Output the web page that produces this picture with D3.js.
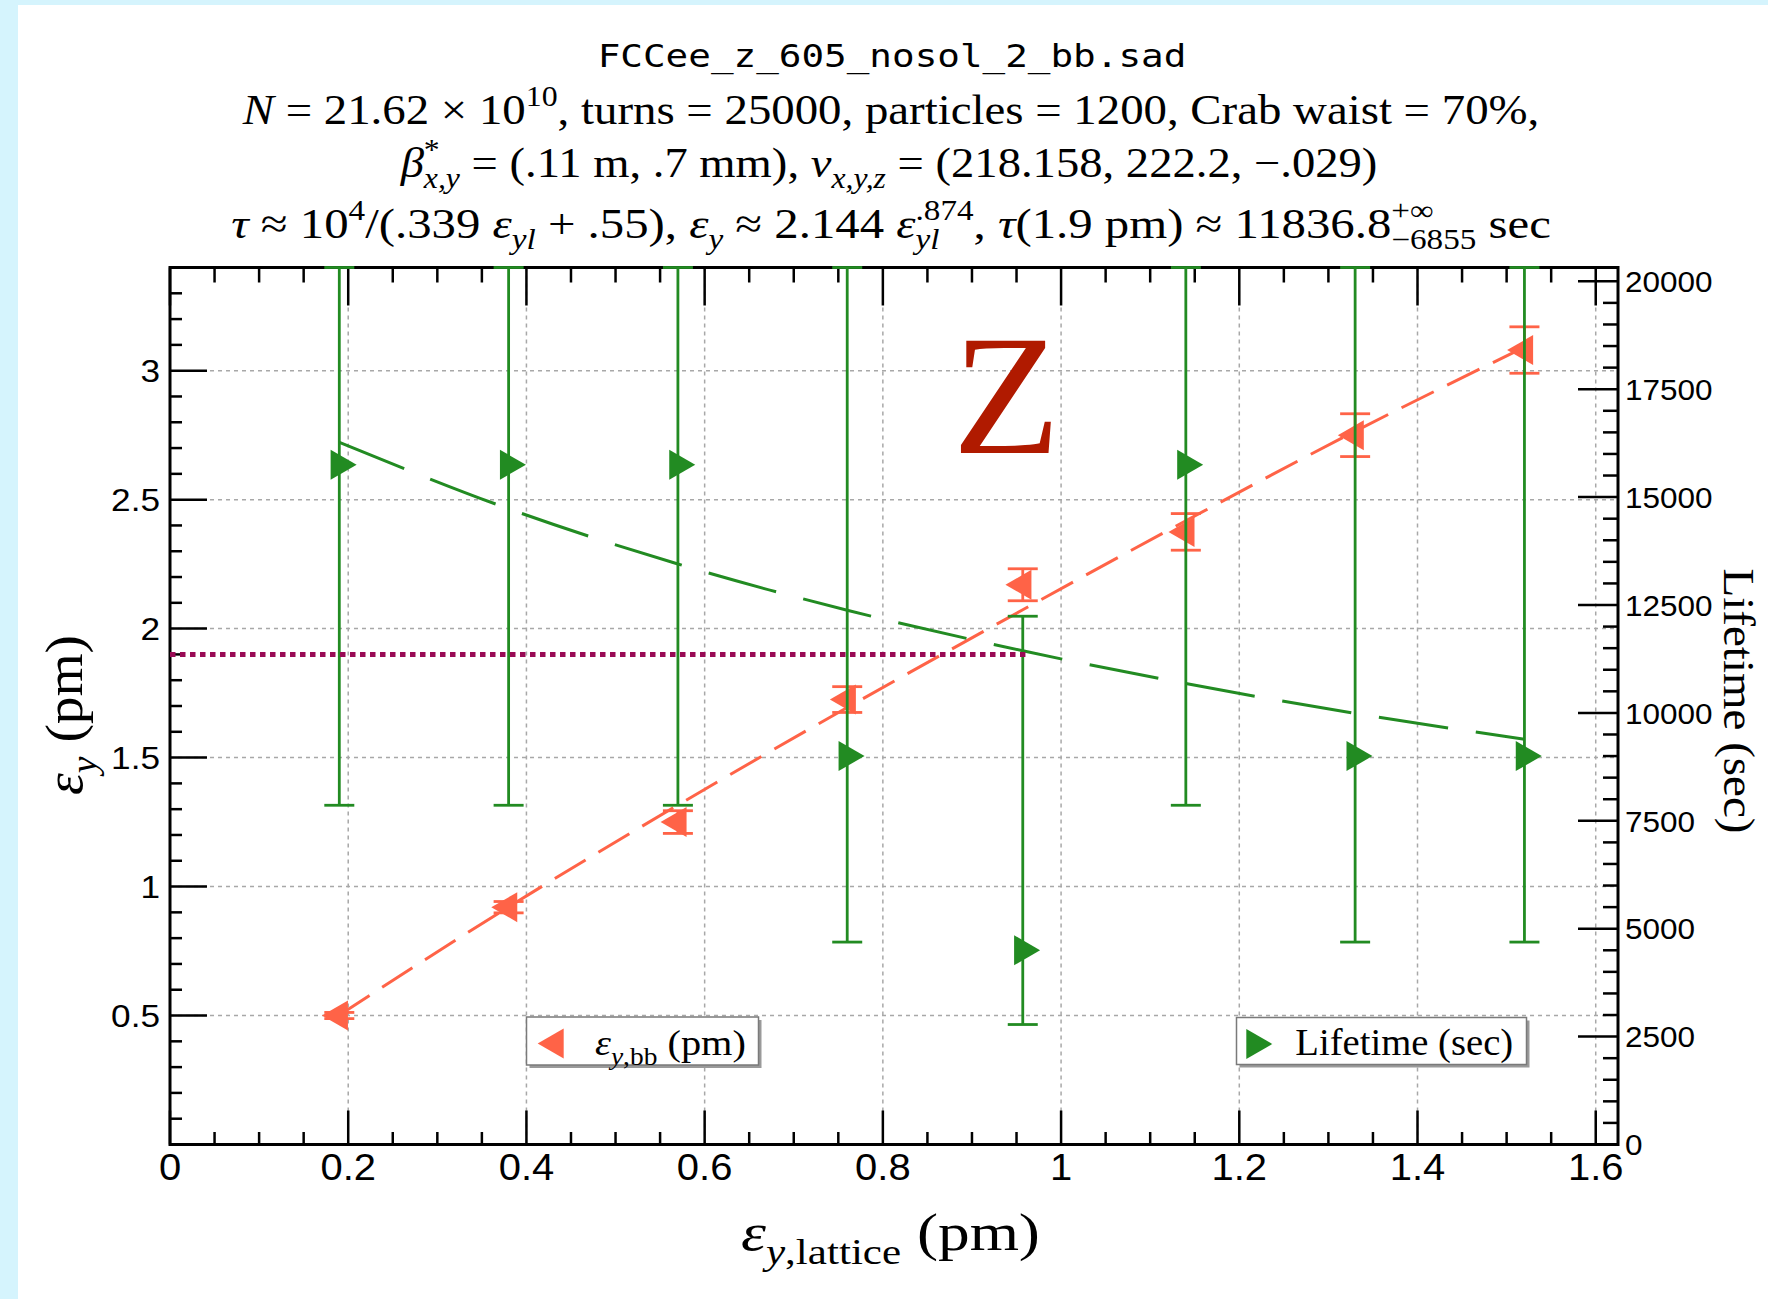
<!DOCTYPE html>
<html>
<head>
<meta charset="utf-8">
<script src="https://cdn.jsdelivr.net/npm/d3@7"></script>
<style>
  html, body { margin: 0; padding: 0; background: #ffffff; }
  svg { display: block; }
</style>
</head>
<body>
<svg id="chart" width="1768" height="1299"></svg>
<script>
// ---- data -------------------------------------------------------------
const latticeEmittance = [0.19, 0.38, 0.57, 0.76, 0.957, 1.14, 1.33, 1.52];   // eps_y,lattice (pm)
const beamBeamEmittance = [0.50, 0.92, 1.25, 1.725, 2.17, 2.375, 2.75, 3.08];  // eps_y,bb (pm)
const beamBeamError     = [0.012, 0.022, 0.044, 0.05, 0.062, 0.071, 0.083, 0.09];
const lifetimeSec  = [15750, 15750, 15750, 9000, 4500, 15750, 9000, 9000];
const lifetimeLow  = [7860, 7860, 7860, 4690, 2780, 7860, 4690, 4690];
const lifetimeHigh = [Infinity, Infinity, Infinity, Infinity, 12240, Infinity, Infinity, Infinity];
// fitted curves sampled at the lattice emittances
const emittanceFit = [0.502, 0.921, 1.316, 1.694, 2.073, 2.418, 2.765, 3.091];
const lifetimeFit  = [16270, 14730, 13450, 12380, 11440, 10680, 9990, 9390];
// reference level eps_y = 1.9 pm
const referenceLevel = 1.9;
const referenceSpan  = [0, 0.96];

const xTickValues = [0, 0.2, 0.4, 0.6, 0.8, 1.0, 1.2, 1.4, 1.6];
const xTickLabels = ["0", "0.2", "0.4", "0.6", "0.8", "1", "1.2", "1.4", "1.6"];
const leftTickValues = [0.5, 1, 1.5, 2, 2.5, 3];
const leftTickLabels = ["0.5", "1", "1.5", "2", "2.5", "3"];
const rightTickValues = [0, 2500, 5000, 7500, 10000, 12500, 15000, 17500, 20000];
const rightTickLabels = ["0", "2500", "5000", "7500", "10000", "12500", "15000", "17500", "20000"];

// ---- layout -----------------------------------------------------------
const W = 1768, H = 1299;
const P = { left: 170, top: 267.5, right: 1618, bottom: 1144.5 };
const RED = "#ff6347", GREEN = "#228b22", MAGENTA = "#990a55", ZRED = "#b01a00";
const SERIF = "'Liberation Serif', 'Times New Roman', serif";
const SANS = "'Liberation Sans', Arial, sans-serif";
const MONO = "'DejaVu Sans Mono', monospace";

const svg = d3.select("#chart");

const x = d3.scaleLinear().domain([0, 1.625]).range([P.left, P.right]);
const yL = d3.scaleLinear().domain([0, 3.4]).range([P.bottom, P.top]);
const yR = d3.scaleLinear().domain([0, 20320]).range([P.bottom, P.top]).clamp(true);

// page background
svg.append("rect").attr("width", W).attr("height", H).attr("fill", "#d5f4fd");
svg.append("rect").attr("x", 18).attr("y", 5).attr("width", W - 18).attr("height", H - 5).attr("fill", "#ffffff");

// ---- rich text helper (italics, sub/superscripts, stacked scripts) ----
function rich(parent, parts, fs, family) {
  const t = parent.append("text").attr("font-family", family).attr("font-size", fs).attr("fill", "#000");
  let shift = 0, pendingDx = 0, lastSupW = 0;
  parts.forEach(p => {
    const pos = p.s || "base";
    const target = pos === "sup" ? -0.42 * fs : pos === "sub" ? 0.27 * fs : 0;
    const ts = t.append("tspan").text(p.t);
    if (pos !== "base") ts.attr("font-size", 0.68 * fs);
    if (p.i) ts.attr("font-style", "italic");
    const dy = target - shift;
    if (dy) ts.attr("dy", dy);
    shift = target;
    let dx = pendingDx; pendingDx = 0;
    if (p.stack) dx -= lastSupW;
    if (dx) ts.attr("dx", dx);
    const w = ts.node().getComputedTextLength();
    if (pos === "sup") lastSupW = w;
    if (p.stack && w < lastSupW) pendingDx = lastSupW - w;
  });
  return t;
}
// place text so that its width spans `width`, stretching horizontally
function fit(t, tx, ty, width, anchor, rot) {
  t.attr("text-anchor", anchor || "middle");
  const w = t.node().getBBox().width;
  const sx = width / w;
  t.attr("transform", `translate(${tx},${ty})` + (rot ? ` rotate(${rot})` : "") + ` scale(${sx},1)`);
  return t;
}

// ---- titles -----------------------------------------------------------
const titles = svg.append("g");
fit(titles.append("text").attr("font-family", MONO).attr("font-size", 32).text("FCCee_z_605_nosol_2_bb.sad"),
    892, 67, 589);
fit(rich(titles, [
  { t: "N", i: true }, { t: " = 21.62 × 10" }, { t: "10", s: "sup" },
  { t: ", turns = 25000, particles = 1200, Crab waist = 70%," }
], 42, SERIF), 891, 123.5, 1298);
fit(rich(titles, [
  { t: "β", i: true }, { t: "*", s: "sup" }, { t: "x,y", s: "sub", i: true, stack: true },
  { t: " = (.11 m, .7 mm), " }, { t: "ν", i: true }, { t: "x,y,z", s: "sub", i: true },
  { t: " = (218.158, 222.2, −.029)" }
], 42, SERIF), 889, 177, 978);
fit(rich(titles, [
  { t: "τ", i: true }, { t: " ≈ 10" }, { t: "4", s: "sup" }, { t: "/(.339 " },
  { t: "ε", i: true }, { t: "yl", s: "sub", i: true }, { t: " + .55), " },
  { t: "ε", i: true }, { t: "y", s: "sub", i: true }, { t: " ≈ 2.144 " },
  { t: "ε", i: true }, { t: ".874", s: "sup" }, { t: "yl", s: "sub", i: true, stack: true },
  { t: ", " }, { t: "τ", i: true }, { t: "(1.9 pm) ≈ 11836.8" },
  { t: "+∞", s: "sup" }, { t: "−6855", s: "sub", stack: true }, { t: " sec" }
], 42, SERIF), 891, 238, 1320);

// ---- grid -------------------------------------------------------------
const grid = svg.append("g").attr("stroke", "#a8a8a8").attr("stroke-width", 1.5).attr("stroke-dasharray", "4,4");
xTickValues.filter(v => v > 0).forEach(v => {
  grid.append("line").attr("x1", x(v)).attr("x2", x(v)).attr("y1", P.top).attr("y2", P.bottom);
});
leftTickValues.forEach(v => {
  grid.append("line").attr("x1", P.left).attr("x2", P.right).attr("y1", yL(v)).attr("y2", yL(v));
});

// ---- frame and ticks ----------------------------------------------------
const axes = svg.append("g").attr("stroke", "#000");
const near = (a, b) => Math.abs(a - b) < 1e-6;
d3.range(0, 1.6 + 1e-9, 0.05).forEach(v => {
  const major = near(v / 0.2, Math.round(v / 0.2));
  const xx = x(v);
  axes.append("line").attr("x1", xx).attr("x2", xx).attr("y1", P.bottom).attr("y2", P.bottom - (major ? 34 : 12.5)).attr("stroke-width", 2.5);
  axes.append("line").attr("x1", xx).attr("x2", xx).attr("y1", P.top).attr("y2", P.top + (major ? 38 : 15)).attr("stroke-width", 2.5);
});
d3.range(0.1, 3.4 - 1e-9, 0.1).forEach(v => {
  const major = near(v / 0.5, Math.round(v / 0.5));
  axes.append("line").attr("x1", P.left).attr("x2", P.left + (major ? 37 : 12)).attr("y1", yL(v)).attr("y2", yL(v)).attr("stroke-width", 2.5);
});
d3.range(0, 20000 + 1, 500).forEach(v => {
  const major = v % 2500 === 0;
  axes.append("line").attr("x1", P.right).attr("x2", P.right - (major ? 40 : 15)).attr("y1", yR(v)).attr("y2", yR(v)).attr("stroke-width", 2.5);
});
axes.append("rect").attr("x", P.left).attr("y", P.top).attr("width", P.right - P.left).attr("height", P.bottom - P.top)
  .attr("fill", "none").attr("stroke-width", 3);

// tick labels
const labels = svg.append("g").attr("font-family", SANS).attr("fill", "#000");
xTickValues.forEach((v, i) => {
  labels.append("text").attr("font-size", 37).attr("text-anchor", "middle")
    .attr("transform", `translate(${x(v)},${1180}) scale(1.08,1)`).text(xTickLabels[i]);
});
leftTickValues.forEach((v, i) => {
  labels.append("text").attr("font-size", 32).attr("text-anchor", "end")
    .attr("transform", `translate(160,${yL(v) + 0.358 * 32}) scale(1.1,1)`).text(leftTickLabels[i]);
});
rightTickValues.forEach((v, i) => {
  labels.append("text").attr("font-size", 30).attr("text-anchor", "start")
    .attr("transform", `translate(1625,${yR(v) + 0.358 * 30}) scale(1.05,1)`).text(rightTickLabels[i]);
});

// axis titles
fit(rich(svg, [{ t: "ε", i: true }, { t: "y", s: "sub", i: true }, { t: ",lattice", s: "sub" }, { t: " (pm)" }], 53, SERIF),
    890.5, 1250, 299);
fit(rich(svg, [{ t: "ε", i: true }, { t: "y", s: "sub", i: true }, { t: " (pm)" }], 53, SERIF),
    82, 715, 160, "middle", -90);
fit(svg.append("text").attr("font-family", SERIF).attr("font-size", 44).text("Lifetime (sec)"),
    1724, 701, 265, "middle", 90);

// big label
fit(svg.append("text").attr("font-family", SERIF).attr("font-size", 171).attr("fill", ZRED).text("Z"),
    1006.5, 452.7, 108);

// ---- data marks -------------------------------------------------------
const tri = d3.symbol(d3.symbolTriangle, 390);
const CAP = 15;
const idx = d3.range(latticeEmittance.length);

// emittance fit (dashed)
const lineL = d3.line().x(i => x(latticeEmittance[i])).y(i => yL(emittanceFit[i])).curve(d3.curveMonotoneX);
svg.append("path").attr("d", lineL(idx)).attr("fill", "none").attr("stroke", RED)
  .attr("stroke-width", 3).attr("stroke-dasharray", "36,15");

// emittance error bars and markers
const red = svg.append("g").attr("stroke", RED).attr("stroke-width", 2.8);
idx.forEach(i => {
  const xx = x(latticeEmittance[i]);
  const lo = yL(beamBeamEmittance[i] - beamBeamError[i]);
  const hi = yL(beamBeamEmittance[i] + beamBeamError[i]);
  red.append("line").attr("x1", xx).attr("x2", xx).attr("y1", lo).attr("y2", hi);
  red.append("line").attr("x1", xx - CAP).attr("x2", xx + CAP).attr("y1", lo).attr("y2", lo);
  red.append("line").attr("x1", xx - CAP).attr("x2", xx + CAP).attr("y1", hi).attr("y2", hi);
});
idx.forEach(i => {
  svg.append("path").attr("d", tri()).attr("fill", RED)
    .attr("transform", `translate(${x(latticeEmittance[i])},${yL(beamBeamEmittance[i])}) rotate(-90)`);
});

// lifetime fit (dashed)
const lineR = d3.line().x(i => x(latticeEmittance[i])).y(i => yR(lifetimeFit[i])).curve(d3.curveMonotoneX);
svg.append("path").attr("d", lineR(idx)).attr("fill", "none").attr("stroke", GREEN)
  .attr("stroke-width", 3).attr("stroke-dasharray", "70,28");

// lifetime error bars and markers
const green = svg.append("g").attr("stroke", GREEN).attr("stroke-width", 2.8);
idx.forEach(i => {
  const xx = x(latticeEmittance[i]);
  const lo = yR(lifetimeLow[i]);
  const hi = yR(Math.min(lifetimeHigh[i], yR.domain()[1]));
  green.append("line").attr("x1", xx).attr("x2", xx).attr("y1", lo).attr("y2", hi);
  green.append("line").attr("x1", xx - CAP).attr("x2", xx + CAP).attr("y1", lo).attr("y2", lo);
  green.append("line").attr("x1", xx - CAP).attr("x2", xx + CAP).attr("y1", hi).attr("y2", hi);
});
idx.forEach(i => {
  svg.append("path").attr("d", tri()).attr("fill", GREEN)
    .attr("transform", `translate(${x(latticeEmittance[i])},${yR(lifetimeSec[i])}) rotate(90)`);
});

// reference level
svg.append("line").attr("x1", x(referenceSpan[0])).attr("x2", x(referenceSpan[1]))
  .attr("y1", yL(referenceLevel)).attr("y2", yL(referenceLevel))
  .attr("stroke", MAGENTA).attr("stroke-width", 5).attr("stroke-dasharray", "5.5,4.5");

// ---- legends ----------------------------------------------------------
function legendBox(x0, y0, w, h) {
  svg.append("rect").attr("x", x0 + 3).attr("y", y0 + 3).attr("width", w).attr("height", h).attr("fill", "#9a9a9a");
  svg.append("rect").attr("x", x0).attr("y", y0).attr("width", w).attr("height", h)
    .attr("fill", "#ffffff").attr("stroke", "#7a7a7a").attr("stroke-width", 1.5);
}
legendBox(526.5, 1017, 232, 48);
svg.append("path").attr("d", tri()).attr("fill", RED).attr("transform", "translate(555,1043.5) rotate(-90)");
fit(rich(svg, [{ t: "ε", i: true }, { t: "y", s: "sub", i: true }, { t: ",bb", s: "sub" }, { t: " (pm)" }], 36, SERIF),
    595, 1055, 151, "start");

legendBox(1236.5, 1017.5, 290, 47);
svg.append("path").attr("d", tri()).attr("fill", GREEN).attr("transform", "translate(1255,1044) rotate(90)");
fit(svg.append("text").attr("font-family", SERIF).attr("font-size", 37).text("Lifetime (sec)"),
    1295.3, 1055, 218, "start");
</script>
</body>
</html>
